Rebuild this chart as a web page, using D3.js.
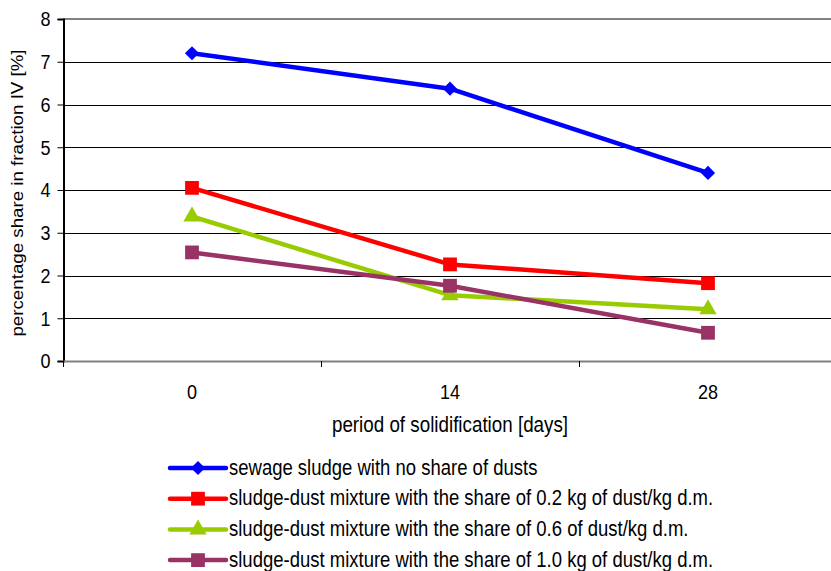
<!DOCTYPE html>
<html>
<head>
<meta charset="utf-8">
<script src="https://cdn.jsdelivr.net/npm/d3@7"></script>
<style>
    body { margin: 0; background: #fff; }
    svg { font-family: "Liberation Sans", Arial, sans-serif; display: block; }
</style>
</head>
<body>
<div id="chart"></div>
<script>

var days = ['0', '14', '28'];

var seriesNames = [
    'sewage sludge with no share of dusts',
    'sludge-dust mixture with the share of 0.2 kg of dust/kg d.m.',
    'sludge-dust mixture with the share of 0.6 of dust/kg d.m.',
    'sludge-dust mixture with the share of 1.0 kg of dust/kg d.m.'
];

var noDust = [7.2, 6.37, 4.4];
var dust02 = [4.05, 2.26, 1.82];
var dust06 = [3.38, 1.54, 1.21];
var dust10 = [2.54, 1.76, 0.66];

var yTicks = [0, 1, 2, 3, 4, 5, 6, 7, 8];

var colors = ['#0000ff', '#ff0000', '#99cc00', '#993366'];
// the first square is turned 45 degrees into a diamond
var symbols = [d3.symbolSquare, d3.symbolSquare, d3.symbolTriangle, d3.symbolSquare];
var symbolSizes = [100, 190, 130, 190];
var symbolTurns = [45, 0, 0, 0];

var seriesData = [noDust, dust02, dust06, dust10].map(function(values, i) {
    return {
        name: seriesNames[i],
        values: values.map((v, j) => ({ day: days[j], value: v }))
    };
});

var width = 831;
var height = 571;
var margin = { left: 63, top: 19, right: -6, bottom: 210 };
// the text in the picture is a little taller than it is wide
var stretch = 'scale(1,1.17)';

var svg = d3.select('#chart')
    .append('svg')
    .attr('width', width)
    .attr('height', height);

var x = d3.scaleBand()
    .domain(days)
    .range([margin.left, width - margin.right]);

var y = d3.scaleLinear()
    .domain([0, 8])
    .range([height - margin.bottom, margin.top]);

// gridlines
svg.append('g')
    .selectAll('line')
    .data(yTicks.filter(d => d > 0 && d < 8))
    .enter()
    .append('line')
    .attr('x1', margin.left)
    .attr('x2', width)
    .attr('y1', d => Math.round(y(d)) + 0.5)
    .attr('y2', d => Math.round(y(d)) + 0.5)
    .style('stroke', '#000')
    .style('stroke-width', 1);

// plot area top border
svg.append('line')
    .attr('x1', margin.left)
    .attr('x2', width)
    .attr('y1', y(8))
    .attr('y2', y(8))
    .style('stroke', '#808080')
    .style('stroke-width', 2);

// y axis
var yAxis = svg.append('g')
    .attr('transform', 'translate(' + (margin.left + 0.5) + ',0)')
    .call(d3.axisLeft(y).tickValues(yTicks).tickSize(6).tickPadding(7).tickFormat(d3.format('d')));
yAxis.select('.domain').style('stroke', '#000').style('stroke-width', 2);
yAxis.selectAll('.tick line').style('stroke', '#000');
yAxis.selectAll('text')
    .attr('transform', stretch)
    .style('font-size', '18px')
    .style('fill', '#000');

// x axis
var xAxis = svg.append('g')
    .attr('transform', 'translate(0,' + y(0) + ')')
    .call(d3.axisBottom(x).tickSize(0));
xAxis.select('.domain').style('stroke', '#808080').style('stroke-width', 2);
xAxis.selectAll('text')
    .attr('y', 38 / 1.17)
    .attr('dy', 0)
    .attr('transform', stretch)
    .style('font-size', '18px')
    .style('fill', '#000');

// category separators
svg.append('g')
    .selectAll('line')
    .data(days)
    .enter()
    .append('line')
    .attr('x1', d => Math.round(x(d)) + 0.5)
    .attr('x2', d => Math.round(x(d)) + 0.5)
    .attr('y1', y(0))
    .attr('y2', y(0) + 6)
    .style('stroke', '#000');

// axis titles
svg.append('text')
    .attr('transform', 'translate(23,193) rotate(-90) scale(1.17,1)')
    .attr('text-anchor', 'middle')
    .style('font-size', '16px')
    .text('percentage share in fraction IV [%]');

svg.append('text')
    .attr('transform', 'translate(' + (x('14') + x.bandwidth() / 2) + ',432) ' + stretch)
    .attr('text-anchor', 'middle')
    .style('font-size', '18.8px')
    .text('period of solidification [days]');

// series
var line = d3.line()
    .x(d => x(d.day) + x.bandwidth() / 2)
    .y(d => y(d.value));

var series = svg.append('g')
    .selectAll('g.series')
    .data(seriesData)
    .enter()
    .append('g')
    .attr('class', 'series');

series.append('path')
    .attr('d', d => line(d.values))
    .style('fill', 'none')
    .style('stroke', (d, i) => colors[i])
    .style('stroke-width', 4.5)
    .style('stroke-linejoin', 'round');

series.each(function(s, i) {
    d3.select(this)
        .selectAll('path.marker')
        .data(s.values)
        .enter()
        .append('path')
        .attr('class', 'marker')
        .attr('d', d3.symbol().type(symbols[i]).size(symbolSizes[i]))
        .attr('transform', d => 'translate(' + [x(d.day) + x.bandwidth() / 2, y(d.value)] + ') rotate(' + symbolTurns[i] + ')')
        .style('fill', colors[i]);
});

// legend
var legend = svg.append('g')
    .selectAll('g.legend')
    .data(seriesData)
    .enter()
    .append('g')
    .attr('class', 'legend')
    .attr('transform', (d, i) => 'translate(170,' + (468 + i * 30.7) + ')');

legend.append('line')
    .attr('x1', 0)
    .attr('x2', 56)
    .style('stroke', (d, i) => colors[i])
    .style('stroke-width', 4.5)
    .style('stroke-linecap', 'round');

legend.append('path')
    .attr('d', (d, i) => d3.symbol().type(symbols[i]).size(symbolSizes[i])())
    .attr('transform', (d, i) => 'translate(28,0) rotate(' + symbolTurns[i] + ')')
    .style('fill', (d, i) => colors[i]);

legend.append('text')
    .attr('x', 59)
    .attr('dy', '0.3em')
    .attr('transform', stretch)
    .style('font-size', '18.5px')
    .text(d => d.name);

</script>
</body>
</html>
